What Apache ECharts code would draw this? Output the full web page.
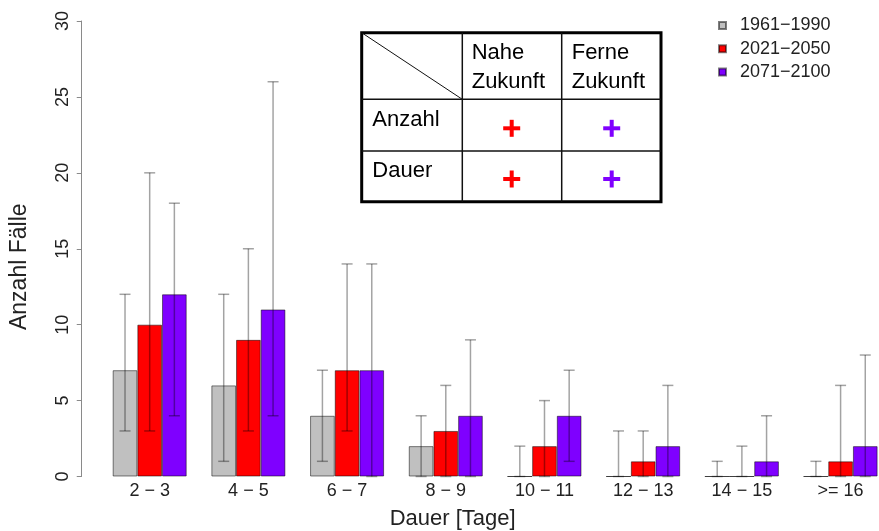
<!DOCTYPE html>
<html>
<head>
<meta charset="utf-8">
<script src="https://cdn.jsdelivr.net/npm/echarts@6/dist/echarts.min.js"></script>
<style>
html,body{margin:0;padding:0;background:#fff;}
#chart{width:879px;height:531px;}
</style>
</head>
<body>
<div id="chart"></div>
<script>
// ---- data ----
const categories = ['2 \u2212 3', '4 \u2212 5', '6 \u2212 7', '8 \u2212 9', '10 \u2212 11', '12 \u2212 13', '14 \u2212 15', '>= 16'];
const seriesNames = ['1961\u22121990', '2021\u22122050', '2071\u22122100'];
const values1961 = [7, 6, 4, 2, 0, 0, 0, 0];
const values2021 = [10, 9, 7, 3, 2, 1, 0, 1];
const values2071 = [12, 11, 7, 4, 4, 2, 1, 2];
const low1961  = [3, 1, 1, 0, 0, 0, 0, 0];
const high1961 = [12, 12, 7, 4, 2, 3, 1, 1];
const low2021  = [3, 3, 3, 0, 0, 0, 0, 0];
const high2021 = [20, 15, 14, 6, 5, 3, 2, 6];
const low2071  = [4, 4, 0, 0, 1, 0, 0, 0];
const high2071 = [18, 26, 14, 9, 7, 6, 4, 8];
const yTicks = [0, 5, 10, 15, 20, 25, 30];
const tableColHeads = [['Nahe', 'Zukunft'], ['Ferne', 'Zukunft']];
const tableRowHeads = ['Anzahl', 'Dauer'];

const colors = ['#c0c0c0', '#ff0000', '#7f00ff'];
const FONT = "'Liberation Sans', Arial, Helvetica, sans-serif";

const chart = echarts.init(document.getElementById('chart'), null, {renderer: 'canvas'});

const vals = [values1961, values2021, values2071];
const lows = [low1961, low2021, low2071];
const highs = [high1961, high2021, high2071];

const barSeries = vals.map((v, s) => ({
  name: seriesNames[s],
  type: 'bar',
  data: v,
  barWidth: 24.675,
  barGap: '0%',
  itemStyle: {color: colors[s], borderColor: 'rgba(0,0,0,0.5)', borderWidth: 1},
  emphasis: {disabled: true},
  z: 2
}));

const errSeries = vals.map((v, s) => ({
  name: 'err' + s,
  type: 'custom',
  data: categories.map((c, i) => [i, lows[s][i], highs[s][i]]),
  encode: {x: 0, y: [1, 2]},
  z: 5,
  silent: true,
  renderItem: function (params, api) {
    const i = api.value(0);
    const pLo = api.coord([i, api.value(1)]);
    const pHi = api.coord([i, api.value(2)]);
    const band = api.size([1, 0])[0];
    const x = pLo[0] + (s - 1) * band / 4;
    const cw = 5.5;
    const st = {stroke: 'rgba(0,0,0,0.36)', lineWidth: 1.5};
    return {
      type: 'group',
      children: [
        {type: 'line', shape: {x1: x, y1: pLo[1], x2: x, y2: pHi[1]}, style: st},
        {type: 'line', shape: {x1: x - cw, y1: pHi[1], x2: x + cw, y2: pHi[1]}, style: st},
        {type: 'line', shape: {x1: x - cw, y1: pLo[1], x2: x + cw, y2: pLo[1]}, style: st}
      ]
    };
  }
}));

// ---- table overlay (graphic) ----
const T = {x0: 361.7, x1: 462.3, x2: 561.7, x3: 661, y0: 32.7, y1: 99.3, y2: 151, y3: 201.7};
const lineSt = {stroke: '#111', lineWidth: 1.5};
const txtSt = (t, x, y) => ({type: 'text', x: x, y: y, style: {text: t, font: '22px ' + FONT, fill: '#000', textVerticalAlign: 'middle', textAlign: 'left'}});
function plus(cx, cy, col) {
  const L = 17, W = 4;
  return [
    {type: 'rect', shape: {x: cx - L / 2, y: cy - W / 2, width: L, height: W}, style: {fill: col}},
    {type: 'rect', shape: {x: cx - W / 2, y: cy - L / 2, width: W, height: L}, style: {fill: col}}
  ];
}
const tableGraphic = {
  type: 'group',
  z: 100,
  children: [
    {type: 'rect', shape: {x: T.x0, y: T.y0, width: T.x3 - T.x0, height: T.y3 - T.y0}, style: {fill: '#fff', stroke: '#000', lineWidth: 3}},
    {type: 'line', shape: {x1: T.x1, y1: T.y0, x2: T.x1, y2: T.y3}, style: lineSt},
    {type: 'line', shape: {x1: T.x2, y1: T.y0, x2: T.x2, y2: T.y3}, style: lineSt},
    {type: 'line', shape: {x1: T.x0, y1: T.y1, x2: T.x3, y2: T.y1}, style: lineSt},
    {type: 'line', shape: {x1: T.x0, y1: T.y2, x2: T.x3, y2: T.y2}, style: lineSt},
    {type: 'line', shape: {x1: T.x0, y1: T.y0, x2: T.x1, y2: T.y1}, style: {stroke: '#111', lineWidth: 1}},
    txtSt(tableColHeads[0][0], 471.7, 52.5),
    txtSt(tableColHeads[0][1], 471.7, 81.7),
    txtSt(tableColHeads[1][0], 571.7, 52.5),
    txtSt(tableColHeads[1][1], 571.7, 81.7),
    txtSt(tableRowHeads[0], 372.3, 119.5),
    txtSt(tableRowHeads[1], 372.3, 170.5),
    ...plus(511.7, 128.3, colors[1]),
    ...plus(511.7, 179, colors[1]),
    ...plus(611.7, 128.3, '#8000ff'),
    ...plus(611.7, 179, '#8000ff')
  ]
};

const option = {
  animation: false,
  backgroundColor: '#fff',
  textStyle: {fontFamily: FONT},
  grid: {left: 100.34, top: 21, width: 789.6, bottom: 54.5, containLabel: false, outerBoundsMode: 'none'},
  legend: {
    orient: 'vertical',
    left: 713,
    top: 11.5,
    data: seriesNames,
    icon: 'rect',
    itemWidth: 7,
    itemHeight: 7,
    itemGap: 5.3,
    selectedMode: false,
    textStyle: {fontSize: 18, color: '#222', fontFamily: FONT, lineHeight: 18, padding: [0, 0, 0, 9]}
  },
  xAxis: {
    type: 'category',
    data: categories,
    axisLine: {show: false},
    axisTick: {show: false},
    axisLabel: {fontSize: 18, color: '#222', margin: 6, fontFamily: FONT, interval: 0},
    name: 'Dauer [Tage]',
    nameLocation: 'middle',
    nameGap: 31.5,
    nameTextStyle: {fontSize: 22, color: '#222', fontFamily: FONT, lineHeight: 22, padding: [0, 85, 0, 0]}
  },
  yAxis: {
    type: 'value',
    min: yTicks[0],
    max: yTicks[yTicks.length - 1],
    interval: yTicks[1] - yTicks[0],
    offset: 18.6,
    splitLine: {show: false},
    axisLine: {show: true, lineStyle: {color: '#8a8a8a', width: 1}},
    axisTick: {show: true, length: 5, lineStyle: {color: '#8a8a8a'}},
    axisLabel: {fontSize: 18, color: '#222', rotate: 90, margin: 10, fontFamily: FONT},
    name: 'Anzahl F\u00e4lle',
    nameLocation: 'middle',
    nameRotate: 90,
    nameGap: 51,
    nameTextStyle: {fontSize: 23, color: '#222', fontFamily: FONT, lineHeight: 23, padding: [0, 36, 0, 0]}
  },
  graphic: [tableGraphic],
  series: [...barSeries, ...errSeries]
};
chart.setOption(option);
</script>
</body>
</html>
